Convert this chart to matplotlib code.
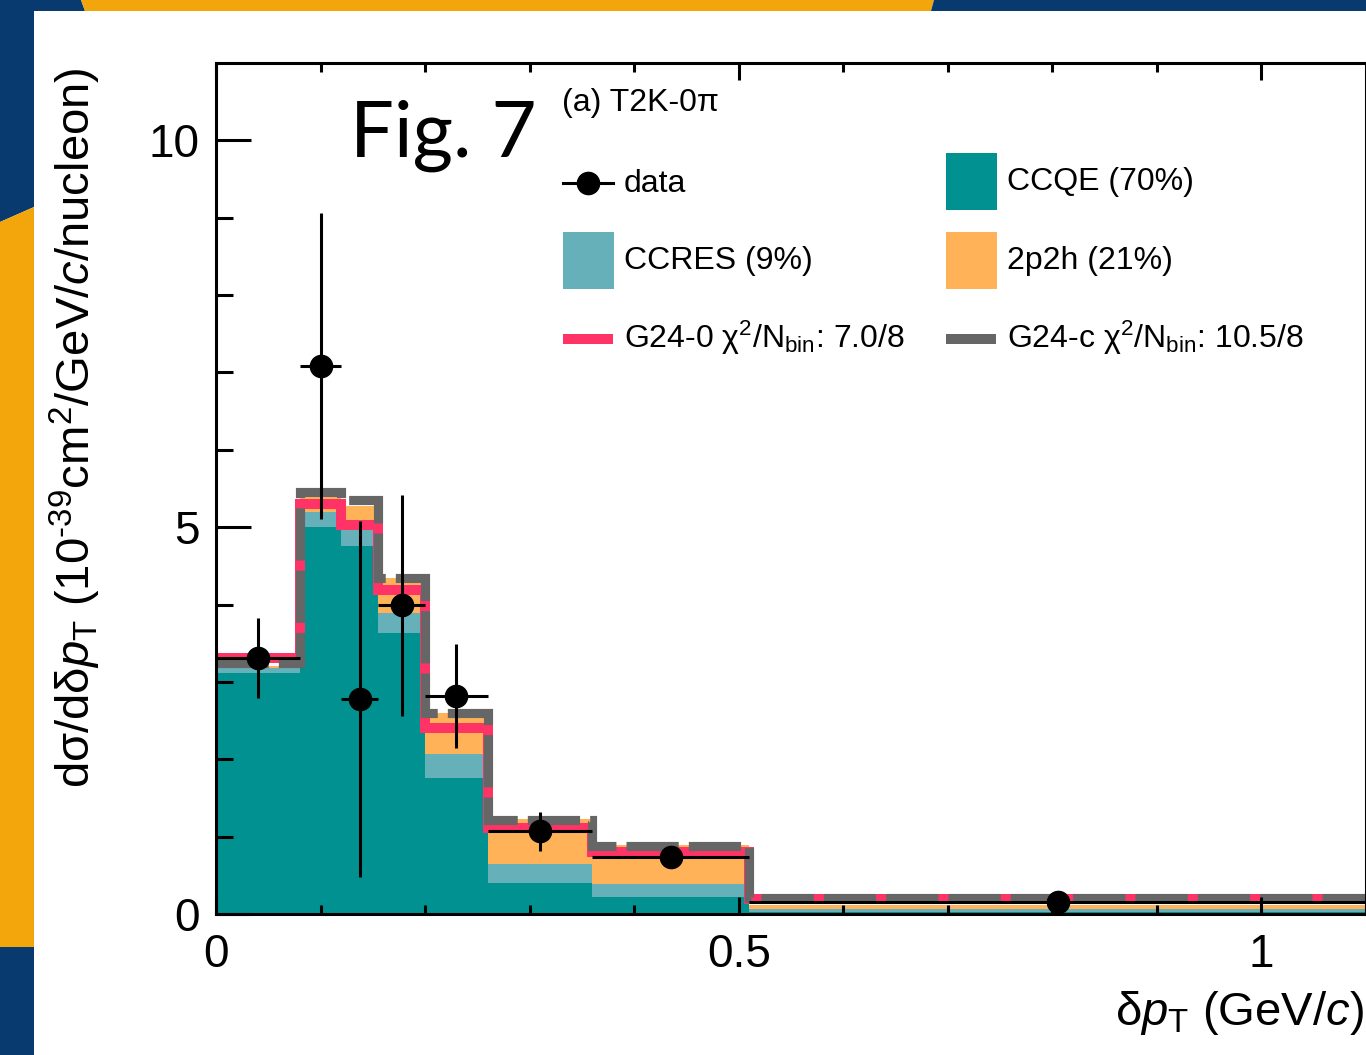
import matplotlib
matplotlib.use("Agg")
import matplotlib.pyplot as plt
from matplotlib.patches import Polygon, Rectangle
from matplotlib.lines import Line2D
import numpy as np

plt.rcParams['font.family'] = ['Liberation Sans', 'DejaVu Sans']
plt.rcParams['mathtext.fontset'] = 'custom'
plt.rcParams['mathtext.rm'] = 'Liberation Sans'
plt.rcParams['mathtext.it'] = 'Liberation Sans:italic'
plt.rcParams['mathtext.bf'] = 'Liberation Sans:bold'

# bin edges of delta pT (GeV/c)
edges = [0, 0.08, 0.12, 0.155, 0.2, 0.26, 0.36, 0.51, 1.1]

# data points and errors
data_y = [3.31, 7.08, 2.78, 3.99, 2.82, 1.07, 0.74, 0.155]
data_err = [0.52, 1.98, 2.30, 1.43, 0.67, 0.25, 0.10, 0.03]

# stacked components (G24-0 breakdown)
ccqe = [3.11, 5.00, 4.76, 3.63, 1.76, 0.405, 0.22, 0.03]
ccres = [0.07, 0.20, 0.22, 0.26, 0.31, 0.245, 0.17, 0.035]
twop2h = [0.02, 0.19, 0.30, 0.45, 0.53, 0.58, 0.50, 0.055]

# model totals
g24_0 = [3.31, 5.30, 5.03, 4.19, 2.40, 1.11, 0.80, 0.20]
g24_c = [3.25, 5.46, 5.35, 4.34, 2.60, 1.21, 0.88, 0.21]

labels = {
    'data': 'data',
    'ccqe': 'CCQE (70%)',
    'ccres': 'CCRES (9%)',
    '2p2h': '2p2h (21%)',
    'g0': r'G24-0 χ$^{2}$/N$_{\rm bin}$: 7.0/8',
    'gc': r'G24-c χ$^{2}$/N$_{\rm bin}$: 10.5/8',
}

c_ccqe = '#009190'
c_ccres = '#66b0ba'
c_2p2h = '#ffb257'
c_red = '#ff3366'
c_grey = '#666666'
c_blue = '#083a70'
c_orange = '#f2a60c'

W, H = 1366, 1055
fig = plt.figure(figsize=(W / 100, H / 100), dpi=100)


def fp(x, y):
    return (x / W, 1 - y / H)


# decorative frame
deco = [
    ([(0, 0), (81, 0), (85, 11), (34, 11), (34, 207), (0, 222)], c_blue),
    ([(81, 0), (934, 0), (931, 11), (85, 11)], c_orange),
    ([(934, 0), (W, 0), (W, 11), (931, 11)], c_blue),
    ([(0, 222), (34, 207), (34, 947), (0, 947)], c_orange),
    ([(0, 947), (34, 947), (34, H), (0, H)], c_blue),
]
for pts, col in deco:
    fig.add_artist(Polygon([fp(*p) for p in pts], closed=True,
                           transform=fig.transFigure, color=col, lw=0))

x0, x1, y0, y1 = 216, 1366, 63, 914
ax = fig.add_axes([x0 / W, 1 - y1 / H, (x1 - x0) / W, (y1 - y0) / H])

edges = np.array(edges)
ccqe = np.array(ccqe)
ccres = np.array(ccres)
twop2h = np.array(twop2h)

ax.stairs(ccqe, edges, baseline=0, fill=True, color=c_ccqe, lw=0)
ax.stairs(ccqe + ccres, edges, baseline=ccqe, fill=True, color=c_ccres, lw=0)
ax.stairs(ccqe + ccres + twop2h, edges, baseline=ccqe + ccres, fill=True,
          color=c_2p2h, lw=0)

ax.stairs(g24_0, edges, baseline=None, color=c_red, lw=7.2)
ax.stairs(g24_c, edges, baseline=None, color=c_grey, lw=6.6,
          linestyle=(0, (5.7, 1.1)))

centers = 0.5 * (edges[1:] + edges[:-1])
halfw = 0.5 * (edges[1:] - edges[:-1])
ax.errorbar(centers, data_y, xerr=halfw, yerr=data_err, fmt='o', color='black',
            ms=16, elinewidth=2.2, capsize=0, zorder=5)

ax.set_xlim(0, 1.1)
ax.set_ylim(0, 11)
ax.set_xticks([0, 0.5, 1])
ax.set_xticklabels(['0', '0.5', '1'])
ax.set_xticks(np.arange(0, 1.1, 0.1), minor=True)
ax.set_yticks([0, 5, 10])
ax.set_yticks(np.arange(0, 11, 1), minor=True)

ax.tick_params(axis='both', which='both', direction='in', width=2.2,
               labelsize=33, colors='black')
ax.tick_params(axis='x', which='major', length=12, top=True, pad=14)
ax.tick_params(axis='x', which='minor', length=6.5, top=True)
ax.tick_params(axis='y', which='major', length=25, right=False, pad=12)
ax.tick_params(axis='y', which='minor', length=12.5, right=False)
for s in ax.spines.values():
    s.set_linewidth(2.2)

fig.text(*fp(1364, 1013), r'δ$p_{\rm T}$ (GeV/$c$)', fontsize=34,
         ha='right', va='center')
fig.text(*fp(75, 428),
         r'dσ/dδ$p_{\rm T}$ (10$^{\text{-39}}$cm$^{2}$/GeV/$c$/nucleon)',
         fontsize=34, rotation=90, ha='center', va='center')

fig.text(*fp(350, 157), 'Fig. 7', fontsize=56, family=['Lato', 'DejaVu Sans'],
         ha='left', va='baseline')
fig.text(*fp(562, 103), '(a) T2K-0π', fontsize=23, ha='left', va='center')

# legend
lfs = 23
fig.add_artist(Line2D([563 / W, 613 / W], [fp(0, 183)[1]] * 2, color='black',
                      lw=2.2, transform=fig.transFigure))
fig.add_artist(Line2D([588 / W], [fp(0, 183)[1]], marker='o', ms=16,
                      color='black', transform=fig.transFigure))
fig.text(*fp(624, 184), labels['data'], fontsize=lfs, va='center')

boxes = [(946, 153, c_ccqe, 'ccqe'), (563, 232, c_ccres, 'ccres'),
         (946, 232, c_2p2h, '2p2h')]
for bx, by, col, key in boxes:
    fig.add_artist(Rectangle(fp(bx, by + 57), 51 / W, 57 / H, color=col, lw=0,
                             transform=fig.transFigure))
    fig.text(*fp(bx + 61, by + 29), labels[key], fontsize=lfs, va='center')

for lx, col, key in [(563, c_red, 'g0'), (946, c_grey, 'gc')]:
    fig.add_artist(Line2D([lx / W, (lx + 50) / W], [fp(0, 339)[1]] * 2,
                          color=col, lw=7.2, solid_capstyle='butt',
                          transform=fig.transFigure))
    fig.text(*fp(lx + 61, 338), labels[key], fontsize=lfs, va='center')

fig.savefig('out.png', dpi=100)
